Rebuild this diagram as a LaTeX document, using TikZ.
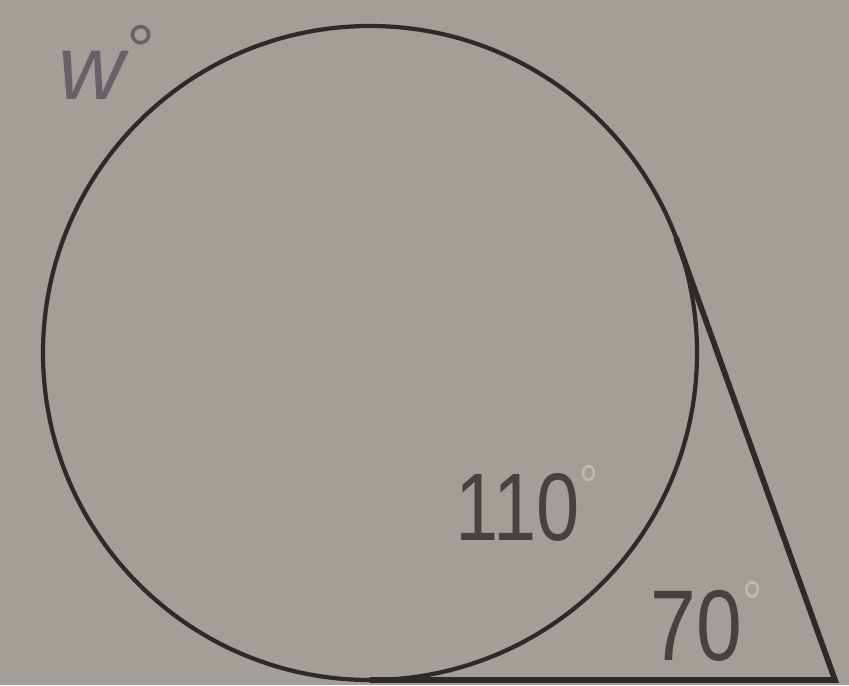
\documentclass[tikz,border=0pt]{standalone}
\usepackage{fontspec}
\setmainfont{Liberation Sans}
\definecolor{paper}{RGB}{163,158,152}
\definecolor{ink}{RGB}{45,42,42}
\definecolor{txt}{RGB}{70,66,66}
\definecolor{faint}{RGB}{190,186,180}
\definecolor{wcol}{RGB}{105,96,106}
\tikzset{
  curve/.style={draw=ink, line width=1.2pt},
  tline/.style={draw=ink, line width=1.6pt, line cap=round},
  lab/.style={text=txt, font=\fontsize{26}{26}\selectfont, inner sep=0pt, anchor=base west},
}
\begin{document}
\begin{tikzpicture}[x=0.01cm, y=-0.01cm]
  \fill[paper] (0,0) rectangle (849,685);
  \useasboundingbox (0,0) rectangle (849,685);
  % circle
  \coordinate (O) at (370,353);
  \draw[curve] (O) circle [radius=327];
  % tangent points and vertex
  \coordinate (T1) at (676.5,238.8);
  \coordinate (T2) at (370.6,680);
  \coordinate (V) at (835,680);
  \draw[tline] (T1) -- (V) -- (T2);
  % labels
  \node[lab, xscale=0.85, yscale=1.05] (a110) at (455,540) {110\textcolor{faint}{\raisebox{0.35em}{\fontsize{16}{16}\selectfont\textdegree}}};
  \node[lab, xscale=0.9, yscale=1.1] (a70) at (650,660) {70\textcolor{faint}{\raisebox{0.35em}{\fontsize{16}{16}\selectfont\textdegree}}};
  \node[lab, text=wcol, font=\fontsize{26}{26}\itshape] (w) at (58,100) {w\raisebox{0.28em}{\fontsize{20}{20}\selectfont\textdegree}};
\end{tikzpicture}
\end{document}
